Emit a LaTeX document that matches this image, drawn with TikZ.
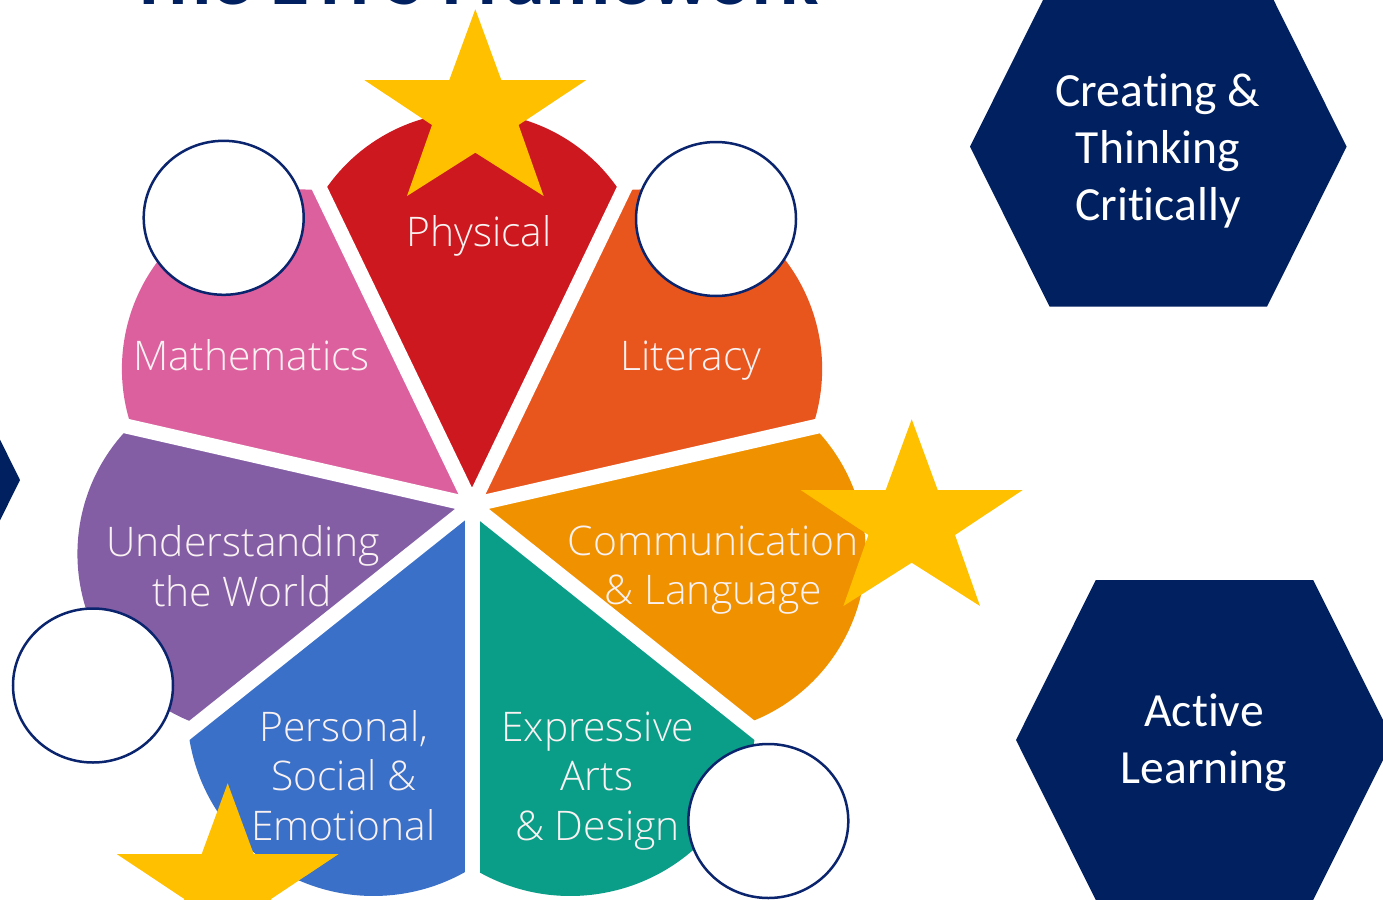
\documentclass[tikz,border=0pt]{standalone}
\usepackage{fontspec}
\setmainfont[Ligatures={NoCommon}]{Carlito}
\IfFontExistsTF{Open Sans Light}{\newfontfamily\petalfont{Open Sans Light}}{\newfontfamily\petalfont{Open Sans}}
\newfontfamily\hexfont[Ligatures={NoCommon}]{Carlito}
\definecolor{navy}{RGB}{0,32,96}
\definecolor{ringnavy}{RGB}{10,36,110}
\definecolor{gold}{RGB}{255,192,0}
\definecolor{physred}{RGB}{204,24,30}
\definecolor{litorange}{RGB}{232,86,30}
\definecolor{commorange}{RGB}{240,145,0}
\definecolor{exteal}{RGB}{10,158,136}
\definecolor{pseblue}{RGB}{58,112,199}
\definecolor{uwpurple}{RGB}{131,94,165}
\definecolor{mathpink}{RGB}{220,96,158}
\definecolor{petalwhite}{RGB}{250,242,242}
\newcommand\drawpetal[3]{%
  \begin{scope}[shift={(472,-505)}, rotate=#1, scale=#2]
    \fill[#3] (0,0) -- (310.8,-149.7) arc[start angle=-57.55, end angle=57.55, radius=177.4] -- cycle;
  \end{scope}}
\begin{document}
\begin{tikzpicture}[x=1pt,y=1pt,
  petaltext/.style={font=\petalfont\fontsize{40.8}{49}\selectfont, text=petalwhite, anchor=base, inner sep=0pt},
  hextext/.style={font=\hexfont\fontsize{47.6}{57}\selectfont, text=white, anchor=base, inner sep=0pt},
  gapline/.style={white, line width=15pt},
  ring/.style={fill=white, draw=ringnavy, line width=2.5pt},
  hexfill/.style={fill=navy},
  goldstar/.pic={\fill[gold] (0,0) -- (26,-70.7) -- (111,-70.7) -- (43.3,-115.7) -- (68.3,-186.7) -- (0,-143.4) -- (-68.3,-186.7) -- (-43.3,-115.7) -- (-111,-70.7) -- (-26,-70.7) -- cycle;}
]
\useasboundingbox (0,-899) rectangle (1383,0);
\clip (0,-899) rectangle (1383,0);
\fill[white] (0,-899) rectangle (1383,0);

% title (cut off at top, as in the reference)
\node[font=\bfseries\fontsize{80}{80}\selectfont, text=navy, anchor=base, inner sep=0pt] (title) at (474,-5) {The EYFS Framework};

% petals
\drawpetal{90}{1.0}{physred}
\drawpetal{38.57}{1.012}{litorange}
\drawpetal{-12.86}{1.016}{commorange}
\drawpetal{-64.29}{1.052}{exteal}
\drawpetal{-115.71}{1.052}{pseblue}
\drawpetal{-167.14}{1.018}{uwpurple}
\drawpetal{141.43}{1.012}{mathpink}

% white gaps
\coordinate (ctr) at (472,-505);
\foreach \a in {64.29,12.86,-38.57,-90,-141.43,167.14,115.71}
  \draw[gapline] (ctr) -- ++(\a:440);

% hexagons
\fill[hexfill] (970,-146.7) -- (1049.6,-306.7) -- (1267,-306.7) -- (1346.6,-146.7) -- (1267,13.3) -- (1049.6,13.3) -- cycle;
\fill[hexfill] (1016,-740) -- (1095.8,-900) -- (1313.2,-900) -- (1393,-740) -- (1313.2,-580) -- (1095.8,-580) -- cycle;
\fill[hexfill] (20,-480) -- (-59.2,-640) -- (-276.6,-640) -- (-357,-480) -- (-276.6,-320) -- (-59.2,-320) -- cycle;

% circles
\draw[ring] (223.7,-217.8) ellipse [x radius=80, y radius=77];
\draw[ring] (716,-219) ellipse [x radius=80, y radius=77];
\draw[ring] (93,-685.5) ellipse [x radius=80, y radius=77];
\draw[ring] (768.3,-821) ellipse [x radius=80, y radius=77];

% stars
\pic at (475.3,-9.3) {goldstar};
\pic at (911.7,-419.3) {goldstar};
\pic at (227.7,-783.3) {goldstar};

% petal labels
\node[petaltext] (phys) at (479,-246.7) {Physical};
\node[petaltext] (lit) at (691,-370) {Literacy};
\node[petaltext] (math) at (251.7,-370) {Mathematics};
\node[petaltext] (uw1) at (243,-556.7) {Understanding};
\node[petaltext] (uw2) at (242,-606.7) {the World};
\node[petaltext] (cl1) at (713,-555) {Communication};
\node[petaltext] (cl2) at (713.3,-604) {\& Language};
\node[petaltext] (pse1) at (343.8,-741.7) {Personal,};
\node[petaltext] (pse2) at (344,-790.5) {Social \&};
\node[petaltext] (pse3) at (343.3,-840) {Emotional};
\node[petaltext] (ead1) at (597.7,-741.7) {Expressive};
\node[petaltext] (ead2) at (597,-790.7) {Arts};
\node[petaltext] (ead3) at (597.5,-840) {\& Design};

% hexagon labels
\node[hextext] (ct1) at (1158,-106.7) {Creating \&};
\node[hextext] (ct2) at (1158,-163.3) {Thinking};
\node[hextext] (ct3) at (1158,-220) {Critically};
\node[hextext] (al1) at (1204,-726.7) {Active};
\node[hextext] (al2) at (1204,-783) {Learning};
\end{tikzpicture}
\end{document}
